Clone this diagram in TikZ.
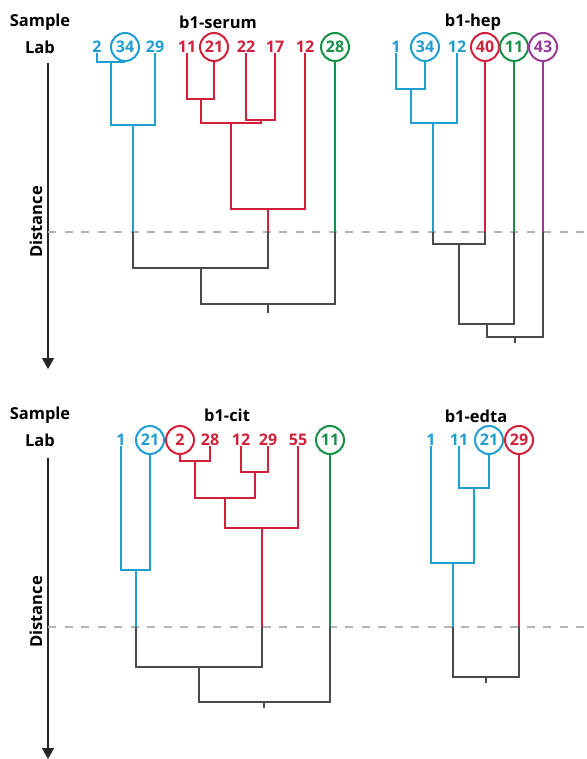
\documentclass[tikz,border=0pt]{standalone}
\usepackage{fontspec}
\setmainfont{Open Sans}
\usetikzlibrary{arrows.meta}
\definecolor{cblue}{HTML}{1E9FD0}
\definecolor{cred}{HTML}{D2203A}
\definecolor{cgreen}{HTML}{17904A}
\definecolor{cpurple}{HTML}{9A3A98}
\definecolor{cgray}{HTML}{4A4A4A}
\definecolor{cdash}{HTML}{B5B5B5}

\begin{document}
\begin{tikzpicture}[x=1pt,y=-1pt,
  lbl/.style={font=\fontsize{16}{16}\selectfont\bfseries, inner sep=0pt, text height=11.5pt, text depth=0pt},
  ring/.style={lbl, draw, circle, line width=2pt, minimum size=28pt},
  head/.style={font=\fontsize{16.5}{17}\selectfont\bfseries, inner sep=0pt},
  br/.style={line width=2.8pt},
  gr/.style={line width=1.6pt, cgray},
  cutline/.style={dash pattern=on 8pt off 8.5pt, cdash, line width=1.3pt},
  axis/.style={line width=1.3pt, black!85, -{Triangle[length=11pt,width=12pt]}}
]
\fill[white] (0,0) rectangle (586,759);
\useasboundingbox (0,0) rectangle (586,759);

% ---------- axes, headers and cut levels ----------
\node[head] (samp1) at (40,22) {Sample};
\node[head] (lab1)  at (40,47) {Lab};
\node[head] (samp2) at (40,415) {Sample};
\node[head] (lab2)  at (40,440) {Lab};
\node[head, rotate=90] (dist1) at (36,222) {Distance};
\node[head, rotate=90] (dist2) at (36,612) {Distance};

\coordinate (ax1a) at (48,63);  \coordinate (ax1b) at (48,369);
\coordinate (ax2a) at (48,458); \coordinate (ax2b) at (48,759);
\draw[axis] (ax1a) -- (ax1b);
\draw[axis] (ax2a) -- (ax2b);

\coordinate (cut1a) at (48,232); \coordinate (cut1b) at (586,232);
\coordinate (cut2a) at (48,627); \coordinate (cut2b) at (586,627);
\draw[cutline] (cut1a) -- (cut1b);
\draw[cutline] (cut2a) -- (cut2b);

% ---------- b1-serum ----------
\node[head] (t1) at (218,22) {b1-serum};
\node[lbl, cblue] (s2) at (97,47) {2};
\node[ring, cblue] (s34) at (125,47) {34};
\node[lbl, cblue] (s29) at (155,47) {29};
\node[lbl, cred] (s11) at (187,47) {11};
\node[ring, cred] (s21) at (214,47) {21};
\node[lbl, cred] (s22) at (246,47) {22};
\node[lbl, cred] (s17) at (275,47) {17};
\node[lbl, cred] (s12) at (305,47) {12};
\node[ring, cgreen] (s28) at (335,47) {28};

\coordinate (a1) at (111,62);  \coordinate (a2) at (133,125); \coordinate (ca) at (133,232);
\coordinate (r1) at (201,99);  \coordinate (r2) at (261,120); \coordinate (r3) at (231,123);
\coordinate (r4) at (268,209); \coordinate (cr) at (268,232);
\coordinate (cg) at (335,232);
\coordinate (g1) at (201,268); \coordinate (g2) at (268,304); \coordinate (g3) at (268,313);

\draw[br, cblue] (s2.south) |- (a1);  \draw[br, cblue] (s34.south) |- (a1);
\draw[br, cblue] (a1) |- (a2);        \draw[br, cblue] (s29.south) |- (a2);
\draw[br, cblue] (a2) -- (ca);
\draw[br, cred] (s11.south) |- (r1);  \draw[br, cred] (s21.south) |- (r1);
\draw[br, cred] (s22.south) |- (r2);  \draw[br, cred] (s17.south) |- (r2);
\draw[br, cred] (r1) |- (r3);         \draw[br, cred] (r2) |- (r3);
\draw[br, cred] (r3) |- (r4);         \draw[br, cred] (s12.south) |- (r4);
\draw[br, cred] (r4) -- (cr);
\draw[br, cgreen] (s28.south) -- (cg);
\draw[gr] (ca) |- (g1); \draw[gr] (cr) |- (g1);
\draw[gr] (g1) |- (g2); \draw[gr] (cg) |- (g2);
\draw[gr] (g2) -- (g3);

% ---------- b1-hep ----------
\node[head] (t2) at (473,22) {b1-hep};
\node[lbl, cblue] (h1) at (396,47) {1};
\node[ring, cblue] (h34) at (425,47) {34};
\node[lbl, cblue] (h12) at (457,47) {12};
\node[ring, cred] (h40) at (485,47) {40};
\node[ring, cgreen] (h11) at (514,47) {11};
\node[ring, cpurple] (h43) at (543,47) {43};

\coordinate (b1) at (411,89);  \coordinate (b2) at (433,123); \coordinate (cb) at (433,232);
\coordinate (ch40) at (485,232); \coordinate (ch11) at (514,232); \coordinate (ch43) at (543,232);
\coordinate (k1) at (459,244); \coordinate (k2) at (487,324); \coordinate (k3) at (515,337);
\coordinate (k4) at (515,343);

\draw[br, cblue] (h1.south) |- (b1);  \draw[br, cblue] (h34.south) |- (b1);
\draw[br, cblue] (b1) |- (b2);        \draw[br, cblue] (h12.south) |- (b2);
\draw[br, cblue] (b2) -- (cb);
\draw[br, cred] (h40.south) -- (ch40);
\draw[br, cgreen] (h11.south) -- (ch11);
\draw[br, cpurple] (h43.south) -- (ch43);
\draw[gr] (cb) |- (k1);   \draw[gr] (ch40) |- (k1);
\draw[gr] (k1) |- (k2);   \draw[gr] (ch11) |- (k2);
\draw[gr] (k2) |- (k3);   \draw[gr] (ch43) |- (k3);
\draw[gr] (k3) -- (k4);

% ---------- b1-cit ----------
\node[head] (t3) at (227,415) {b1-cit};
\node[lbl, cblue] (c1) at (121,440) {1};
\node[ring, cblue] (c21) at (150,440) {21};
\node[ring, cred] (c2) at (180,440) {2};
\node[lbl, cred] (c28) at (210,440) {28};
\node[lbl, cred] (c12) at (241,440) {12};
\node[lbl, cred] (c29) at (268,440) {29};
\node[lbl, cred] (c55) at (298,440) {55};
\node[ring, cgreen] (c11) at (330,440) {11};

\coordinate (e1) at (136,570); \coordinate (ce) at (136,627);
\coordinate (f1) at (195,461); \coordinate (f2) at (255,472);
\coordinate (f3) at (225,498); \coordinate (f4) at (262,528); \coordinate (cf) at (262,627);
\coordinate (cc11) at (330,627);
\coordinate (q1) at (199,667); \coordinate (q2) at (264,702); \coordinate (q3) at (264,708);

\draw[br, cblue] (c1.south) |- (e1);  \draw[br, cblue] (c21.south) |- (e1);
\draw[br, cblue] (e1) -- (ce);
\draw[br, cred] (c2.south) |- (f1);   \draw[br, cred] (c28.south) |- (f1);
\draw[br, cred] (c12.south) |- (f2);  \draw[br, cred] (c29.south) |- (f2);
\draw[br, cred] (f1) |- (f3);         \draw[br, cred] (f2) |- (f3);
\draw[br, cred] (f3) |- (f4);         \draw[br, cred] (c55.south) |- (f4);
\draw[br, cred] (f4) -- (cf);
\draw[br, cgreen] (c11.south) -- (cc11);
\draw[gr] (ce) |- (q1);   \draw[gr] (cf) |- (q1);
\draw[gr] (q1) |- (q2);   \draw[gr] (cc11) |- (q2);
\draw[gr] (q2) -- (q3);

% ---------- b1-edta ----------
\node[head] (t4) at (476,416) {b1-edta};
\node[lbl, cblue] (d1) at (431,440) {1};
\node[lbl, cblue] (d11) at (459,440) {11};
\node[ring, cblue] (d21) at (489,440) {21};
\node[ring, cred] (d29) at (519,440) {29};

\coordinate (p1) at (474,488); \coordinate (p2) at (453,563); \coordinate (cp) at (453,627);
\coordinate (cd29) at (519,627);
\coordinate (p3) at (486,677); \coordinate (p4) at (486,683);

\draw[br, cblue] (d11.south) |- (p1); \draw[br, cblue] (d21.south) |- (p1);
\draw[br, cblue] (d1.south) |- (p2);  \draw[br, cblue] (p1) |- (p2);
\draw[br, cblue] (p2) -- (cp);
\draw[br, cred] (d29.south) -- (cd29);
\draw[gr] (cp) |- (p3);   \draw[gr] (cd29) |- (p3);
\draw[gr] (p3) -- (p4);
\end{tikzpicture}
\end{document}
